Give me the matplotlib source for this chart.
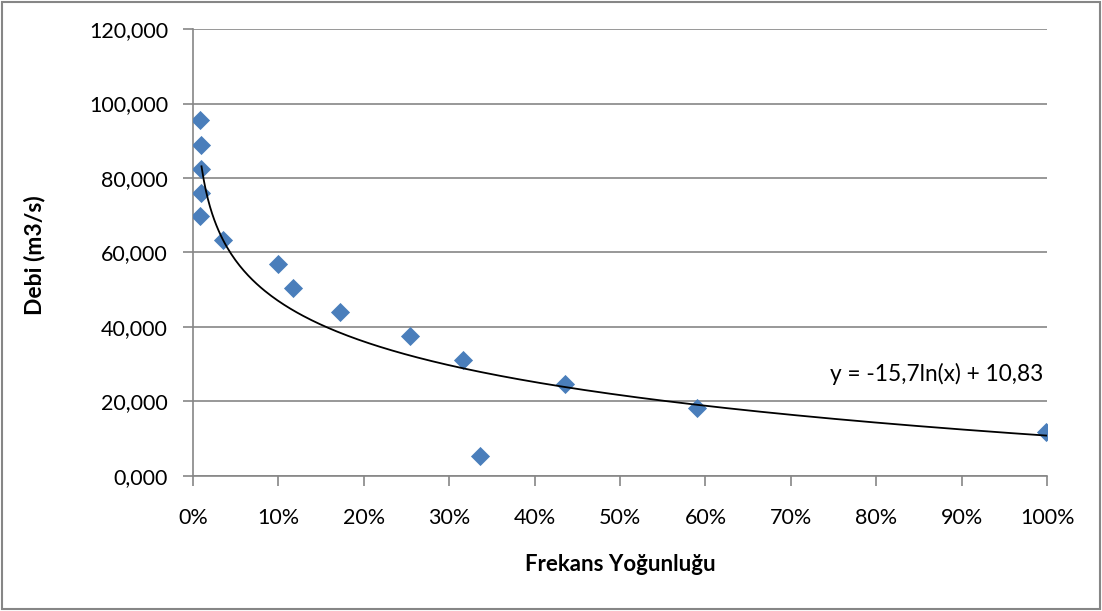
import matplotlib
matplotlib.use("Agg")
import matplotlib.pyplot as plt
from matplotlib.ticker import FuncFormatter
import numpy as np

plt.rcParams['font.family'] = ['Lato', 'DejaVu Sans']

# frequency (fraction) and discharge values
frekans = [0.008, 0.009, 0.009, 0.009, 0.008, 0.035, 0.100, 0.117,
           0.172, 0.254, 0.316, 0.336, 0.436, 0.590, 0.999]
debi = [95.6, 88.9, 82.4, 76.0, 69.8, 63.4, 56.9, 50.5,
        44.0, 37.6, 31.1, 5.4, 24.7, 18.3, 11.8]

# log trendline coefficients (y = a*ln(x) + b)
trend_a = -15.7
trend_b = 10.83
equation = "y = -15,7ln(x) + 10,83"

x_label = "Frekans Yoğunluğu"
y_label = "Debi (m3/s)"

grid_col = '#868686'

fig = plt.figure(figsize=(11.02, 6.11), dpi=100)
ax = fig.add_axes([0.1751, 0.221, 0.7751, 0.7315])

ax.scatter(frekans, debi, marker='D', s=95, color='#4a7ebb', zorder=3,
           linewidths=0)

xs = np.linspace(min(frekans) + 0.002, max(frekans), 400)
ax.plot(xs, trend_a * np.log(xs) + trend_b, color='black', lw=1.3, zorder=4)

ax.set_xlim(0, 1)
ax.set_ylim(0, 120)
ax.set_xticks(np.arange(0, 1.01, 0.1))
ax.set_yticks(np.arange(0, 121, 20))
ax.xaxis.set_major_formatter(FuncFormatter(lambda v, p: f"{v*100:.0f}%"))
ax.yaxis.set_major_formatter(FuncFormatter(lambda v, p: f"{v:.0f},000"))

ax.grid(axis='y', color=grid_col, lw=1.2)
ax.set_axisbelow(True)
for s in ['top', 'right']:
    ax.spines[s].set_visible(False)
for s in ['left', 'bottom']:
    ax.spines[s].set_color(grid_col)
    ax.spines[s].set_linewidth(1.2)
ax.tick_params(axis='both', direction='out', length=7, width=1.2,
               color=grid_col, labelsize=15.5, labelcolor='black')
ax.tick_params(axis='x', pad=16)
ax.tick_params(axis='y', pad=11)

ax.set_xlabel(x_label, fontsize=16, fontweight='bold', va='center')
ax.set_ylabel(y_label, fontsize=16.5, fontweight='bold', va='center')
ax.xaxis.set_label_coords(0.5, -0.199)
ax.yaxis.set_label_coords(-0.185, 0.493)

ax.text(0.995, 24.3, equation, fontsize=16.3, ha='right', va='bottom',
        transform=ax.transData)

# outer chart border
fig.patches.append(plt.Rectangle((0.002, 0.003), 0.996, 0.994,
                                 transform=fig.transFigure, fill=False,
                                 edgecolor=grid_col, lw=1.5))

fig.savefig("out.png", dpi=100)
